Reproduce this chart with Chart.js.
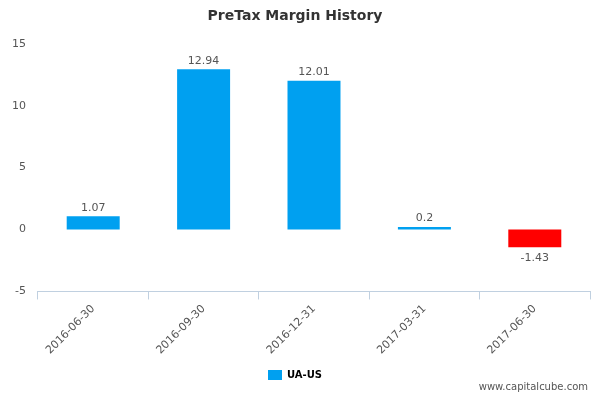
<!DOCTYPE html>
<html><head>
<script src="https://cdn.jsdelivr.net/npm/chart.js@4/dist/chart.umd.min.js"></script>
<style>body{margin:0;background:#fff}#w{width:600px;height:400px;position:relative}
#f{position:absolute;right:12px;bottom:8px;font:10px "DejaVu Sans",sans-serif;color:#555}</style>
</head><body><div id="w"><canvas id="c" width="600" height="400"></canvas><div id="f">www.capitalcube.com</div></div>
<script>
const categories=["2016-06-30","2016-09-30","2016-12-31","2017-03-31","2017-06-30"];
const values=[1.07,12.94,12.01,0.2,-1.43];
const labels=["1.07","12.94","12.01","0.2","-1.43"];
const yTicks=[-5,0,5,10,15];
const valPlugin={id:'v',afterDatasetsDraw(ch){const ctx=ch.ctx;const m=ch.getDatasetMeta(0);
ctx.save();ctx.font='11px "DejaVu Sans",sans-serif';ctx.fillStyle='#555';ctx.textAlign='center';
m.data.forEach((b,i)=>{const v=values[i];if(v>=0){ctx.textBaseline='bottom';ctx.fillText(labels[i],b.x,b.y-3);}else{ctx.textBaseline='top';ctx.fillText(labels[i],b.x,b.y+5);}});ctx.restore();}};
new Chart(document.getElementById('c'),{type:'bar',
data:{labels:categories,datasets:[{label:'UA-US',data:values,
backgroundColor:values.map(v=>v<0?'#ff0000':'#00a0f0'),barPercentage:0.48,categoryPercentage:1}]},
options:{responsive:false,animation:false,
layout:{padding:{left:0,right:10,top:0,bottom:10}},
plugins:{title:{display:true,text:'PreTax Margin History',color:'#333',font:{family:'DejaVu Sans',size:14,weight:'bold'},padding:{top:8,bottom:19}},
legend:{position:'bottom',labels:{boxWidth:14,boxHeight:10,color:'#333',font:{family:'DejaVu Sans',size:10,weight:'bold'},
generateLabels:()=>[{text:'UA-US',fillStyle:'#00a0f0',strokeStyle:'#00a0f0',lineWidth:0}]},padding:10},
tooltip:{enabled:false}},
scales:{y:{min:-5,max:15,afterBuildTicks:a=>{a.ticks=yTicks.map(v=>({value:v}));},
grid:{display:false,drawTicks:false},border:{display:false},
ticks:{color:'#555',font:{family:'DejaVu Sans',size:11},padding:12}},
x:{grid:{display:true,drawOnChartArea:false,offset:true,color:'#c0d0e0',tickLength:8},border:{color:'#c0d0e0'},
ticks:{color:'#555',font:{family:'DejaVu Sans',size:11},maxRotation:45,minRotation:45}}}},
plugins:[valPlugin]});
</script></body></html>
